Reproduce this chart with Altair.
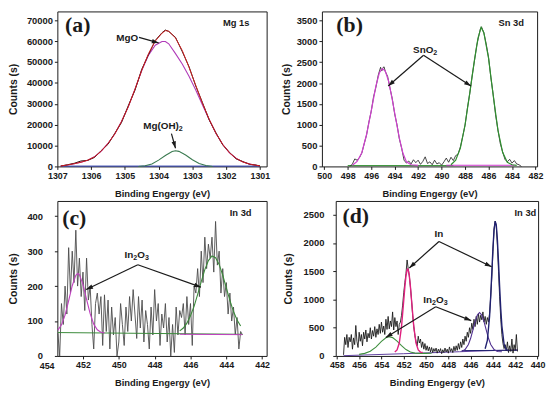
import math
import altair as alt
import pandas as pd

SANS = "Liberation Sans"
SERIF = "Liberation Serif"
INK = "#1a1a1a"

# ---------------- panel (a): Mg 1s ----------------
a_x = [1306.9, 1306.7, 1306.5, 1306.3, 1306.1, 1305.9, 1305.7, 1305.5, 1305.3, 1305.1,
       1304.9, 1304.7, 1304.5, 1304.3, 1304.1, 1303.9, 1303.8, 1303.7, 1303.5, 1303.3,
       1303.1, 1302.9, 1302.7, 1302.5, 1302.3, 1302.1, 1301.9, 1301.7, 1301.5, 1301.3,
       1301.1, 1301.0]
a_raw = [150, 800, 1500, 2600, 2900, 4300, 7600, 10600, 15800, 21000,
         29000, 36500, 46500, 53500, 60300, 64000, 65300, 64600, 61800, 55000,
         47800, 38500, 30500, 22200, 16000, 10300, 6700, 3600, 2300, 1000,
         600, 200]
a_env = [200, 700, 1300, 2000, 3000, 4600, 7300, 11000, 15500, 21500,
         28500, 37000, 46000, 54000, 60000, 63800, 65000, 64800, 61500, 55500,
         47500, 38800, 30200, 22500, 15800, 10500, 6500, 3800, 2100, 1100,
         500, 300]
a_mgo = [200, 700, 1300, 2000, 3000, 4600, 7300, 11000, 15500, 21500,
         28500, 37000, 45900, 53300, 58000, 59800, 59800, 58700, 54000, 49000,
         43200, 36600, 29400, 22300, 15800, 10500, 6500, 3800, 2100, 1100,
         500, 300]
a_oh_x = [1304.6, 1304.4, 1304.2, 1304.0, 1303.8, 1303.6, 1303.5, 1303.4, 1303.2, 1303.0,
          1302.8, 1302.6, 1302.4]
a_oh_y = [0, 300, 1200, 3000, 5200, 7100, 7500, 7200, 5500, 3200, 1400, 400, 0]
a_base_x = [1306.9, 1301.0]
a_base_y = [150, 150]

# ---------------- panel (b): Sn 3d ----------------
b_raw_x = [497.8, 497.6, 497.4, 497.2, 497.0, 496.8, 496.6, 496.4, 496.2, 496.0,
           495.8, 495.6, 495.4, 495.2, 495.1, 495.0, 494.9, 494.8, 494.6, 494.4,
           494.2, 494.0, 493.8, 493.6, 493.4, 493.2, 493.0, 492.8, 492.6, 492.4,
           492.2, 492.0, 491.8, 491.6, 491.4, 491.2, 491.0, 490.8, 490.6, 490.4,
           490.2, 490.0, 489.8, 489.6, 489.4, 489.2, 489.0, 488.8, 488.6, 488.4,
           488.2, 488.0, 487.8, 487.6, 487.4, 487.2, 487.0, 486.8, 486.7, 486.6,
           486.5, 486.4, 486.2, 486.0, 485.8, 485.6, 485.4, 485.2, 485.0, 484.8,
           484.6, 484.4, 484.2, 484.0, 483.8, 483.6, 483.4, 483.2]
b_raw_y = [0, 60, 180, 150, 210, 320, 540, 750, 1060, 1320,
           1670, 1900, 2190, 2380, 2290, 2370, 2390, 2280, 2160, 1880,
           1620, 1260, 1000, 660, 430, 150, 80, 130, 60, 160,
           90, 150, 50, 120, 230, 70, 110, 40, 150, 60,
           90, 30, 110, 200, 100, 220, 140, 260, 290, 470,
           720, 990, 1400, 1750, 2170, 2540, 2910, 3170, 3300, 3350,
           3280, 3210, 2940, 2620, 2130, 1720, 1240, 880, 550, 350,
           170, 110, 170, 80, 140, 60, 40, 0]
b_mag_x = [497.6, 497.2, 496.8, 496.4, 496.0, 495.6, 495.3, 495.05, 494.8, 494.5,
           494.2, 493.9, 493.6, 493.3, 493.0, 492.6, 492.0]
b_mag_y = [30, 120, 330, 760, 1330, 1930, 2250, 2350, 2290, 2030,
           1600, 1130, 680, 320, 110, 40, 25]
b_grn_x = [489.2, 488.8, 488.4, 488.0, 487.6, 487.2, 486.9, 486.63, 486.4, 486.0,
           485.6, 485.2, 484.8, 484.4, 484.0, 483.6]
b_grn_y = [40, 150, 440, 1000, 1760, 2550, 3080, 3340, 3210, 2600,
           1700, 870, 340, 100, 40, 25]
b_gbase_x = [498.0, 489.0]
b_gbase_y = [20, 20]
b_mbase_x = [489.6, 483.8]
b_mbase_y = [28, 28]

# ---------------- panel (c): In 3d ----------------
c_x = [453.4, 453.3, 453.2, 453.1, 453.0, 452.9, 452.8, 452.7, 452.6, 452.5,
       452.4, 452.3, 452.2, 452.1, 452.0, 451.9, 451.8, 451.7, 451.6, 451.5,
       451.4, 451.3, 451.2, 451.1, 451.0, 450.9, 450.8, 450.7, 450.6, 450.5,
       450.4, 450.3, 450.2, 450.1, 450.0, 449.9, 449.8, 449.7, 449.6, 449.5,
       449.4, 449.3, 449.2, 449.1, 449.0, 448.9, 448.8, 448.7, 448.6, 448.5,
       448.4, 448.3, 448.2, 448.1, 448.0, 447.9, 447.8, 447.7, 447.6, 447.5,
       447.4, 447.3, 447.2, 447.1, 447.0, 446.9, 446.8, 446.7, 446.6, 446.5,
       446.4, 446.3, 446.2, 446.1, 446.0, 445.9, 445.8, 445.7, 445.6, 445.5,
       445.4, 445.3, 445.2, 445.1, 445.0, 444.9, 444.8, 444.7, 444.6, 444.5,
       444.4, 444.3, 444.2, 444.1, 444.0, 443.9, 443.8, 443.7, 443.6, 443.5,
       443.4, 443.3, 443.2, 443.1]
c_y = [65, 0, 150, 90, 200, 120, 310, 180, 300, 210,
       360, 200, 280, 170, 240, 130, 280, 160, 200, 90,
       20, 150, 180, 120, 170, 30, 175, 70, 160, 20,
       140, 60, 110, 0, 40, 150, 90, 30, 140, 70,
       170, 100, 190, 120, 50, 170, 80, 160, 40, 130,
       90, 20, 140, 60, 190, 100, 150, 30, 120, 80,
       150, 40, 110, 0, 90, 10, 140, 60, 130, 110,
       150, 60, 170, 90, 150, 30, 200, 180, 250, 170,
       300, 210, 340, 250, 320, 280, 340, 240, 385, 260,
       300, 180, 250, 170, 210, 120, 180, 100, 140, 60,
       110, 20, 70, 60]
c_mag_x = [453.4, 453.2, 453.0, 452.8, 452.6, 452.4, 452.29, 452.2, 452.0, 451.8,
           451.6, 451.4, 451.2, 451.0, 450.8]
c_mag_y = [74, 89, 117, 158, 201, 231, 236, 233, 205, 162, 121, 91, 75, 68, 66]
c_grn_x = [446.6, 446.4, 446.2, 446.0, 445.8, 445.6, 445.4, 445.2, 445.0, 444.8,
           444.6, 444.4, 444.2, 444.0, 443.8, 443.6, 443.4, 443.2]
c_grn_y = [72, 80, 94, 115, 142, 176, 213, 247, 273, 286,
           281, 262, 231, 195, 159, 127, 103, 86]
c_gbase_x = [453.4, 443.1]
c_gbase_y = [67, 62]
c_mbase_x = [446.6, 443.1]
c_mbase_y = [62, 61]

# ---------------- panel (d): In 3d ----------------
d_x = [457.4, 457.3, 457.2, 457.1, 457.0, 456.9, 456.8, 456.7, 456.6, 456.5,
       456.4, 456.3, 456.2, 456.1, 456.0, 455.9, 455.8, 455.7, 455.6, 455.5,
       455.4, 455.3, 455.2, 455.1, 455.0, 454.9, 454.8, 454.7, 454.6, 454.5,
       454.4, 454.3, 454.2, 454.1, 454.0, 453.9, 453.8, 453.7, 453.6, 453.5,
       453.4, 453.3, 453.2, 453.1, 453.0, 452.9, 452.8, 452.7, 452.6, 452.5,
       452.4, 452.3, 452.2, 452.1, 452.0, 451.9, 451.8, 451.7, 451.6, 451.5,
       451.4, 451.3, 451.2, 451.1, 451.0, 450.9, 450.8, 450.7, 450.6, 450.5,
       450.4, 450.3, 450.2, 450.1, 450.0, 449.9, 449.8, 449.7, 449.6, 449.5,
       449.4, 449.3, 449.2, 449.1, 449.0, 448.9, 448.8, 448.7, 448.6, 448.5,
       448.4, 448.3, 448.2, 448.1, 448.0, 447.9, 447.8, 447.7, 447.6, 447.5,
       447.4, 447.3, 447.2, 447.1, 447.0, 446.9, 446.8, 446.7, 446.6, 446.5,
       446.4, 446.3, 446.2, 446.1, 446.0, 445.9, 445.8, 445.7, 445.6, 445.5,
       445.4, 445.3, 445.2, 445.1, 445.0, 444.9, 444.8, 444.7, 444.6, 444.5,
       444.4, 444.3, 444.2, 444.1, 444.0, 443.9, 443.8, 443.7, 443.6, 443.5,
       443.4, 443.3, 443.2, 443.1, 443.0, 442.9, 442.8, 442.7, 442.6, 442.5,
       442.4, 442.3, 442.2, 442.1, 442.0, 441.9, 441.8]
d_y = [20, 330, 200, 380, 150, 330, 250, 380, 120, 320,
       200, 540, 260, 150, 420, 260, 380, 180, 420, 300,
       460, 250, 400, 320, 500, 300, 450, 350, 520, 330,
       480, 380, 560, 400, 600, 420, 530, 380, 650, 470,
       700, 480, 620, 520, 780, 460, 680, 520, 620, 380,
       560, 600, 720, 900, 1120, 1300, 1460, 1700, 1550, 1420,
       1220, 990, 720, 520, 360, 260, 180, 350, 230, 300,
       150, 250, 120, 220, 100, 180, 90, 160, 70, 150,
       60, 130, 80, 140, 50, 120, 70, 130, 40, 110,
       60, 140, 70, 120, 50, 160, 80, 130, 60, 170,
       90, 180, 100, 220, 120, 250, 150, 300, 200, 350,
       260, 420, 330, 500, 400, 580, 470, 650, 520, 700,
       560, 750, 600, 720, 640, 780, 600, 700, 560, 680,
       600, 760, 1050, 1400, 1850, 2250, 2390, 2300, 1950, 1500,
       1050, 650, 380, 220, 130, 200, 90, 250, 60, 180,
       80, 300, 50, 200, 100, 380, 80]
d_pink_x = [452.8, 452.6, 452.4, 452.2, 452.0, 451.9, 451.8, 451.7, 451.65, 451.6,
            451.5, 451.4, 451.3, 451.1, 450.9, 450.7, 450.5, 450.3]
d_pink_y = [69, 106, 229, 520, 982, 1223, 1417, 1525, 1540, 1525,
            1417, 1223, 982, 520, 229, 106, 69, 62]
d_navy_x = [444.7, 444.5, 444.3, 444.2, 444.1, 444.0, 443.9, 443.8, 443.7, 443.6,
            443.5, 443.4, 443.3, 443.2, 443.0, 442.8, 442.6]
d_navy_y = [127, 274, 704, 1063, 1486, 1907, 2234, 2385, 2319, 2054,
            1659, 1226, 837, 534, 208, 111, 92]
d_grn_x = [456.0, 455.5, 455.0, 454.5, 454.0, 453.6, 453.3, 453.0, 452.6, 452.2,
           451.8, 451.4, 451.0, 450.5, 450.0, 449.5]
d_grn_y = [28, 46, 83, 157, 258, 323, 340, 325, 262, 182, 113, 70, 50, 45, 45, 47]
d_pur_x = [446.8, 446.5, 446.2, 446.0, 445.8, 445.6, 445.4, 445.2, 445.0, 444.8,
           444.6, 444.4, 444.2, 443.9, 443.6, 443.2]
d_pur_y = [80, 113, 204, 313, 456, 608, 725, 770, 725, 608, 456, 313, 204, 113, 80, 75]
d_base_x = [457.4, 452.0, 447.0, 441.8]
d_base_y = [5, 40, 75, 110]
d_nbase_x = [446.8, 441.8]
d_nbase_y = [95, 100]

# ---------------- axes / panel frames ----------------
A = dict(xdom=(1300.8, 1307.0), ytop=74200, w=212, h=157,
         xt=[1301, 1302, 1303, 1304, 1305, 1306, 1307],
         yt=[0, 10000, 20000, 30000, 40000, 50000, 60000, 70000], ylp=2, ytx=-39)
B = dict(xdom=(481.86, 500.2), ytop=3720, w=218, h=157,
         xt=[482, 484, 486, 488, 490, 492, 494, 496, 498, 500],
         yt=[0, 500, 1000, 1500, 2000, 2500, 3000, 3500], ylp=2, ytx=-31)
C = dict(xdom=(441.75, 453.43), ytop=443.6, w=212, h=157,
         xt=[442, 444, 446, 448, 450, 452],
         yt=[0, 100, 200, 300, 400], ylp=12, ytx=-39)
D = dict(xdom=(439.95, 458.1), ytop=2745, w=205, h=157,
         xt=[440, 442, 444, 446, 448, 450, 452, 454, 456, 458],
         yt=[0, 500, 1000, 1500, 2000, 2500], ylp=9, ytx=-43)
# tick label of panel (c) that sits just left of its frame
c_extra_tick = [454]

# annotations: (text, x, y, font, size, align); "_" marks a subscript digit
a_labels = [("(a)", 1306.77, 67500, SERIF, 22, "left"),
            ("Mg 1s", 1301.70, 68500, SANS, 9.5, "center"),
            ("MgO", 1304.93, 61500, SANS, 10, "center"),
            ("Mg(OH)_2", 1303.87, 19560, SANS, 10, "center")]
a_arrows = [(1304.58, 61800, 1304.0, 59150), (1303.62, 15700, 1303.50, 8700)]
b_labels = [("(b)", 498.97, 3386, SERIF, 22, "left"),
            ("Sn 3d", 484.07, 3432, SANS, 9.5, "center"),
            ("SnO_2", 491.4, 2800, SANS, 10, "center")]
b_arrows = [(491.54, 2669, 494.55, 1931), (491.54, 2669, 487.5, 1931)]
c_labels = [("(c)", 453.16, 395, SERIF, 22, "left"),
            ("In 3d", 443.2, 410, SANS, 9.5, "center"),
            ("In_2O_3", 449.0, 289, SANS, 10, "center")]
c_arrows = [(448.94, 261, 451.82, 190), (448.94, 261, 445.42, 197)]
d_labels = [("(d)", 457.49, 2470, SERIF, 22, "left"),
            ("In 3d", 441.09, 2539, SANS, 9.5, "center"),
            ("In", 448.84, 2161, SANS, 10, "center"),
            ("In_2O_3", 449.16, 992, SANS, 10, "center")]
d_arrows = [(448.84, 2028, 451.5, 1559), (448.84, 2028, 444.12, 1581),
            (449.13, 871, 453.61, 327), (449.13, 871, 445.95, 626)]

HEAD = "M0,0L-0.75,2.3L0.75,2.3Z"
# approximate advance widths (em) of bold sans glyphs, for subscript layout
GW = {"M": .833, "g": .611, "O": .778, "(": .333, "H": .722, ")": .333,
      "S": .667, "n": .611, "I": .278, "2": .556, "3": .556}
SUB = 0.72


def segments(text):
    segs, i = [], 0
    while i < len(text):
        if text[i] == "_":
            segs.append((text[i + 1], True))
            i += 2
        else:
            j = i
            while j < len(text) and text[j] != "_":
                j += 1
            segs.append((text[i:j], False))
            i = j
    return segs


def panel(P, lines, labels, arrows, extra_ticks=()):
    lo, hi = P["xdom"]
    xs = alt.Scale(domain=[lo, hi], reverse=True, nice=False, zero=False)
    ys = alt.Scale(domain=[0, P["ytop"]], nice=False, zero=False)
    common = dict(labelFont=SANS, labelFontWeight="bold", labelColor=INK,
                  titleFont=SANS, titleFontWeight="bold", titleColor=INK,
                  tickColor=INK, tickSize=3, grid=False, domain=False,
                  labelOverlap=False, format="d")
    xa = alt.Axis(values=P["xt"], title="Binding Engergy (eV)", labelFontSize=9,
                  titleFontSize=9.5, labelPadding=2, titlePadding=8,
                  labelFlush=False, **common)
    ya = alt.Axis(values=P["yt"], title="Counts (s)", labelFontSize=9.5,
                  titleFontSize=10.5, labelPadding=P["ylp"], titleX=P["ytx"], **common)
    xe = alt.X("x:Q", scale=xs, axis=xa)
    ye = alt.Y("y:Q", scale=ys, axis=ya)
    layers = []
    for xv, yv, color, sw in lines:
        df = pd.DataFrame({"x": xv, "y": yv})
        layers.append(alt.Chart(df).mark_line(color=color, strokeWidth=sw)
                      .encode(x=xe, y=ye))
    ppx = P["w"] / (hi - lo)
    ppy = P["h"] / P["ytop"]
    rows = []
    for x1, y1, x2, y2 in arrows:
        dxp = (x1 - x2) * ppx
        dyp = -(y2 - y1) * ppy
        ang = math.degrees(math.atan2(dxp, -dyp)) % 360
        rows.append({"x": x1, "y": y1, "x2": x2, "y2": y2, "ang": ang})
    adf = pd.DataFrame(rows)
    layers.append(alt.Chart(adf).mark_rule(color=INK, strokeWidth=1.2)
                  .encode(x=xe, y=ye, x2=alt.X2("x2:Q"), y2=alt.Y2("y2:Q")))
    hdf = adf.assign(x=adf["x2"], y=adf["y2"])
    layers.append(alt.Chart(hdf).mark_point(shape=HEAD, size=36, filled=True,
                                            color=INK, opacity=1, strokeWidth=0)
                  .encode(x=xe, y=ye, angle=alt.Angle("ang:Q", scale=None)))
    for t, x, y, font, size, align in labels:
        segs = segments(t)
        if len(segs) == 1:
            df = pd.DataFrame({"x": [x], "y": [y], "t": [t]})
            layers.append(alt.Chart(df).mark_text(font=font, fontSize=size,
                                                  fontWeight="bold", align=align,
                                                  baseline="middle", color=INK)
                          .encode(x=xe, y=ye, text="t:N"))
            continue
        widths = [sum(GW.get(ch, .6) for ch in s) * size * (SUB if sub else 1)
                  for s, sub in segs]
        off = -sum(widths) / 2
        for (s, sub), wdt in zip(segs, widths):
            df = pd.DataFrame({"x": [x], "y": [y], "t": [s]})
            layers.append(alt.Chart(df).mark_text(
                font=font, fontSize=size * (SUB if sub else 1), fontWeight="bold",
                align="left", baseline="middle", color=INK,
                dx=off, dy=(3.5 if sub else 0))
                .encode(x=xe, y=ye, text="t:N"))
            off += wdt
    if extra_ticks:
        df = pd.DataFrame({"x": list(extra_ticks), "y": [0] * len(extra_ticks),
                           "t": [str(v) for v in extra_ticks]})
        layers.append(alt.Chart(df).mark_text(font=SANS, fontSize=9, fontWeight="bold",
                                              align="center", baseline="top",
                                              color=INK, dy=6)
                      .encode(x=xe, y=ye, text="t:N"))
    return alt.layer(*layers).properties(width=P["w"], height=P["h"])


pa = panel(A, [(a_base_x, a_base_y, "#2233aa", 1.0),
               (a_x, a_mgo, "#b03ab8", 1.1),
               (a_oh_x, a_oh_y, "#3a7a50", 1.1),
               (a_x, a_raw, "#2a1010", 1.0),
               (a_x, a_env, "#d02020", 1.0)], a_labels, a_arrows)
pb = panel(B, [(b_gbase_x, b_gbase_y, "#2f8f2f", 1.0),
               (b_mbase_x, b_mbase_y, "#cc33cc", 1.0),
               (b_raw_x, b_raw_y, INK, 0.8),
               (b_mag_x, b_mag_y, "#d040d0", 1.2),
               (b_grn_x, b_grn_y, "#2f8f2f", 1.2)], b_labels, b_arrows)
pc = panel(C, [(c_x, c_y, "#4a4a4a", 0.9),
               (c_gbase_x, c_gbase_y, "#3a8a3a", 1.0),
               (c_mbase_x, c_mbase_y, "#c040c0", 1.0),
               (c_mag_x, c_mag_y, "#c040c0", 1.1),
               (c_grn_x, c_grn_y, "#3a8a3a", 1.1)], c_labels, c_arrows, c_extra_tick)
pd_ = panel(D, [(d_base_x, d_base_y, "#6040a0", 1.0),
                (d_nbase_x, d_nbase_y, "#202070", 1.0),
                (d_x, d_y, INK, 0.9),
                (d_grn_x, d_grn_y, "#3f8f3f", 1.1),
                (d_pur_x, d_pur_y, "#503090", 1.1),
                (d_pink_x, d_pink_y, "#e0207f", 1.4),
                (d_navy_x, d_navy_y, "#202070", 1.4)], d_labels, d_arrows)

row1 = alt.hconcat(pa, pb, spacing=56, bounds="flush")
row2 = alt.hconcat(pc, pd_, spacing=70, bounds="flush")
chart = (alt.vconcat(row1, row2, spacing=2)
         .properties(padding=0, background="white")
         .configure_view(stroke=INK, strokeWidth=1))

chart.save("out.html", embed_options={"renderer": "svg", "actions": False})
